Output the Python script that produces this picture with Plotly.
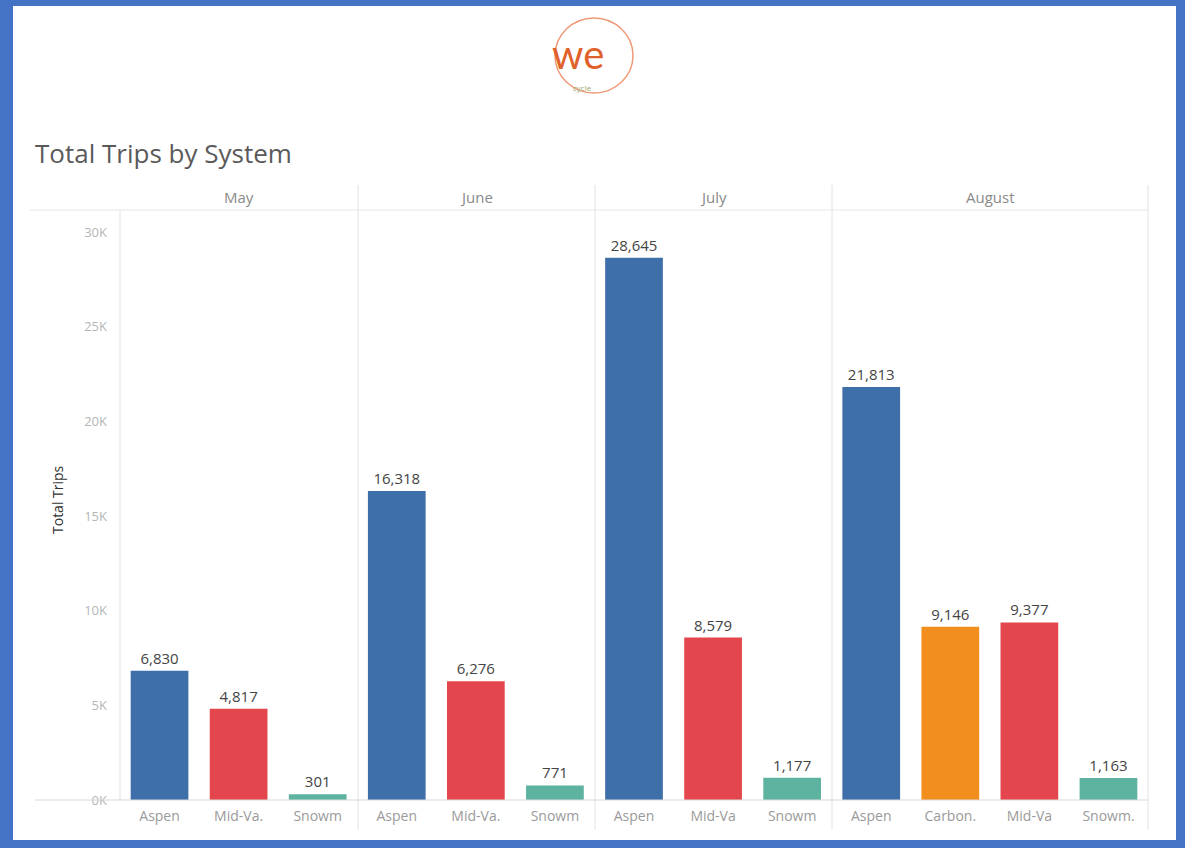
import plotly.graph_objects as go
from plotly.subplots import make_subplots

# ---- data ----
months = ["May", "June", "July", "August"]
systems_may = ["Aspen", "Mid-Va.", "Snowm"]
systems_june = ["Aspen", "Mid-Va.", "Snowm"]
systems_july = ["Aspen", "Mid-Va", "Snowm"]
systems_aug = ["Aspen", "Carbon.", "Mid-Va", "Snowm."]
trips_may = [6830, 4817, 301]
trips_june = [16318, 6276, 771]
trips_july = [28645, 8579, 1177]
trips_aug = [21813, 9146, 9377, 1163]
ytick_vals = [0, 5000, 10000, 15000, 20000, 25000, 30000]
ytick_text = ["0K", "5K", "10K", "15K", "20K", "25K", "30K"]

system_colors = {"Aspen": "#3f6fa8", "Mid": "#e3474d", "Snowm": "#5db3a0", "Carbon": "#f28e1e"}

def color_for(name):
    for k, c in system_colors.items():
        if name.startswith(k):
            return c
    return "#888"

groups = [(systems_may, trips_may), (systems_june, trips_june),
          (systems_july, trips_july), (systems_aug, trips_aug)]

W, H = 1185, 848
PL, PR, PT, PB = 120, 1148, 210, 800

fig = make_subplots(rows=1, cols=4, shared_yaxes=True,
                    column_widths=[len(g[0]) for g in groups],
                    horizontal_spacing=0)

for i, (cats, vals) in enumerate(groups):
    fig.add_trace(go.Bar(
        x=cats, y=vals,
        marker=dict(color=[color_for(c) for c in cats], line=dict(width=0)),
        text=[f"{v:,}" for v in vals], textposition="outside",
        textfont=dict(family="Open Sans", size=15, color="#444"),
        cliponaxis=False, showlegend=False,
    ), row=1, col=i + 1)
    fig.update_xaxes(row=1, col=i + 1, showgrid=False, zeroline=False,
                     showline=False, ticks="", ticklabelstandoff=6,
                     tickfont=dict(family="Open Sans", size=14, color="#9a9a9a"))

fig.update_yaxes(range=[0, (PB - PT) / 18.93 * 1000], tickvals=ytick_vals, ticktext=ytick_text,
                 showgrid=False, zeroline=False, showline=False)
fig.update_yaxes(row=1, col=1, tickfont=dict(family="Open Sans", size=13, color="#b5b5b5"),
                 ticklabelstandoff=12)

def px_x(px):
    return (px - PL) / (PR - PL)

def px_y(py):
    return (PB - py) / (PB - PT)

shapes = []
# white card on blue frame
shapes.append(dict(type="rect", xref="paper", yref="paper", layer="below",
                   x0=px_x(13), x1=px_x(1176), y0=px_y(6), y1=px_y(840),
                   fillcolor="white", line=dict(width=0)))
line_c = "#e2e2e2"
for xp in [358, 595, 832, 1148]:
    shapes.append(dict(type="line", xref="paper", yref="paper",
                       x0=px_x(xp), x1=px_x(xp), y0=px_y(185), y1=px_y(830),
                       line=dict(color=line_c, width=1)))
shapes.append(dict(type="line", xref="paper", yref="paper",
                   x0=px_x(120), x1=px_x(120), y0=px_y(210), y1=px_y(800),
                   line=dict(color=line_c, width=1)))
shapes.append(dict(type="line", xref="paper", yref="paper",
                   x0=px_x(30), x1=px_x(1148), y0=px_y(210), y1=px_y(210),
                   line=dict(color="#e6e6e6", width=1)))
shapes.append(dict(type="line", xref="paper", yref="paper",
                   x0=px_x(35), x1=px_x(1148), y0=px_y(800), y1=px_y(800),
                   line=dict(color="#d8d8d8", width=1)))
# logo circle
shapes.append(dict(type="circle", xref="paper", yref="paper",
                   x0=px_x(555), x1=px_x(633), y0=px_y(93), y1=px_y(18),
                   line=dict(color="#ee9a78", width=1.5)))

annotations = []
col_edges = [120, 358, 595, 832, 1148]
for i, m in enumerate(months):
    annotations.append(dict(text=m, xref="paper", yref="paper",
                            x=px_x((col_edges[i] + col_edges[i + 1]) / 2), y=px_y(197),
                            showarrow=False, xanchor="center", yanchor="middle",
                            font=dict(family="Open Sans", size=15, color="#8a8a8a")))
annotations.append(dict(text="Total Trips by System", xref="paper", yref="paper",
                        x=px_x(33), y=px_y(153), showarrow=False, xanchor="left", yanchor="middle",
                        font=dict(family="Open Sans", size=26, color="#5a5a5a")))
annotations.append(dict(text="Total Trips", xref="paper", yref="paper",
                        x=px_x(57), y=px_y(500), showarrow=False, textangle=-90,
                        xanchor="center", yanchor="middle",
                        font=dict(family="Open Sans", size=14, color="#333")))
annotations.append(dict(text="we", xref="paper", yref="paper",
                        x=px_x(578), y=px_y(54), showarrow=False,
                        xanchor="center", yanchor="middle",
                        font=dict(family="Lato", size=40, color="#e0622a")))
annotations.append(dict(text="cycle", xref="paper", yref="paper",
                        x=px_x(582), y=px_y(87), showarrow=False,
                        xanchor="center", yanchor="middle",
                        font=dict(family="Open Sans", size=8, color="#9aa86a")))

fig.update_layout(
    width=W, height=H,
    margin=dict(l=PL, r=W - PR, t=PT, b=H - PB, pad=0),
    paper_bgcolor="#4472c4", plot_bgcolor="rgba(0,0,0,0)",
    bargap=0.27, shapes=shapes, annotations=annotations,
    font=dict(family="Open Sans"),
)

fig.write_html("out.html", config={"displayModeBar": False},
               post_script="document.body.style.margin='0';document.body.style.overflow='hidden';")
